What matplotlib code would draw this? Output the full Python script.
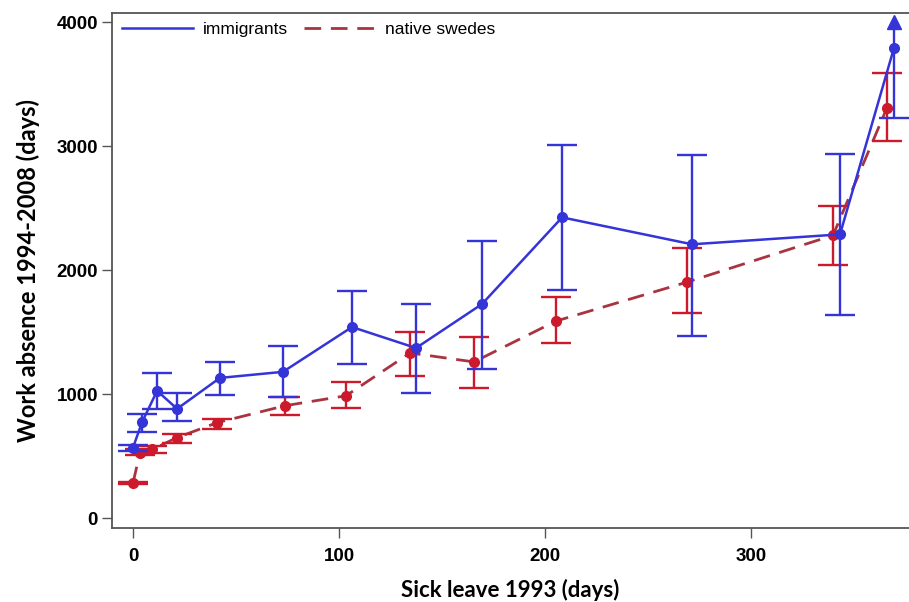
import matplotlib
matplotlib.use('Agg')
import matplotlib.pyplot as plt
from matplotlib.lines import Line2D

# sick leave 1993 (days) -> work absence 1994-2008 (days)
imm_x = [0, 4.4, 11.7, 21.4, 42.2, 72.8, 106.3, 137.4, 169.4, 208.3, 271.4, 343.2, 369.4]
imm_y = [570, 775, 1028, 883, 1132, 1181, 1542, 1373, 1727, 2426, 2209, 2289, 3791]
imm_lo = [545, 700, 880, 787, 996, 980, 1245, 1012, 1205, 1839, 1470, 1639, 3229]
imm_hi = [590, 845, 1173, 1012, 1261, 1390, 1831, 1727, 2233, 3008, 2932, 2940, 4000]

nat_x = [0, 3.4, 9.2, 21.4, 40.8, 73.8, 103.4, 134.5, 165.5, 205.3, 268.9, 339.8, 366.0]
nat_y = [285, 530, 555, 651, 771, 908, 988, 1333, 1261, 1590, 1904, 2281, 3309]
nat_lo = [275, 510, 530, 610, 723, 835, 892, 1149, 1052, 1414, 1655, 2040, 3044]
nat_hi = [295, 560, 585, 683, 803, 980, 1100, 1502, 1462, 1783, 2177, 2514, 3590]

y_clip = 4000
xticks = [0, 100, 200, 300]
yticks = [0, 1000, 2000, 3000, 4000]

blue = '#3434d8'
red_line = '#a83440'
red_bar = '#cc1a2c'

fig = plt.figure(figsize=(9.09, 6.02), dpi=100)
ax = fig.add_axes([0.1232, 0.1229, 0.8768, 0.856])

# native swedes
ax.plot(nat_x, nat_y, color=red_line, lw=2.0, dashes=(6, 3.5), zorder=2)
nat_err = [[y - l for y, l in zip(nat_y, nat_lo)],
           [h - y for y, h in zip(nat_y, nat_hi)]]
ax.errorbar(nat_x, nat_y, yerr=nat_err, fmt='o', ms=7, color=red_bar,
            ecolor=red_bar, elinewidth=1.7, capsize=10.5, capthick=1.7, zorder=3)

# immigrants
ax.plot(imm_x, imm_y, color=blue, lw=1.8, zorder=4)
n = len(imm_x) - 1
imm_err = [[imm_y[i] - imm_lo[i] for i in range(n)],
           [imm_hi[i] - imm_y[i] for i in range(n)]]
ax.errorbar(imm_x[:n], imm_y[:n], yerr=imm_err, fmt='o', ms=7, color=blue,
            ecolor=blue, elinewidth=1.7, capsize=11, capthick=1.7, zorder=5)
# last point: upper bound runs off the chart
ax.vlines(imm_x[n], imm_lo[n], y_clip, color=blue, lw=1.7, zorder=5)
ax.plot(imm_x[n], imm_lo[n], marker='_', ms=22, mew=1.7, color=blue, zorder=5)
ax.plot(imm_x[n], y_clip, marker='^', ms=10, color=blue, zorder=5)
ax.plot(imm_x[n], imm_y[n], 'o', ms=7, color=blue, zorder=6)

ax.set_xlim(-10.2, 376.7)
ax.set_ylim(-78, 4076)
ax.set_xticks(xticks)
ax.set_yticks(yticks)
ax.tick_params(direction='out', length=7, width=1, color='#555555', pad=3)
ax.tick_params(axis='x', pad=7.5)
for lab in ax.get_xticklabels() + ax.get_yticklabels():
    lab.set_fontfamily('Liberation Sans')
    lab.set_fontweight('bold')
    lab.set_fontsize(13.5)
for s in ax.spines.values():
    s.set_color('#555555')
    s.set_linewidth(1.3)
ax.spines['right'].set_visible(False)

ax.set_xlabel('Sick leave 1993 (days)', family='Lato', fontweight='bold',
              fontsize=16, labelpad=10)
ax.set_ylabel('Work absence 1994-2008 (days)', family='Lato', fontweight='bold',
              fontsize=17, labelpad=12)

handles = [Line2D([], [], color=blue, lw=1.8),
           Line2D([], [], color=red_line, lw=2.0, dashes=(6, 3.5))]
ax.legend(handles, ['immigrants', 'native swedes'], loc='upper left', ncol=2,
          frameon=False, prop={'family': 'Liberation Sans', 'size': 12.5},
          handlelength=4.1, handletextpad=0.6, columnspacing=0.9,
          borderaxespad=0.3, borderpad=0.25)

fig.savefig('out.png', dpi=100)
